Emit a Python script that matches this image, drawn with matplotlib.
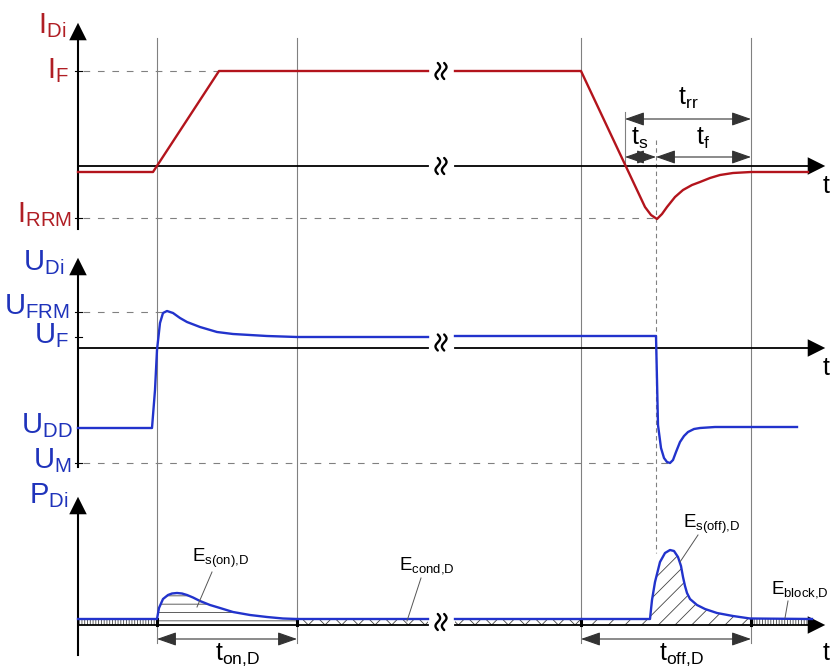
import numpy as np
import matplotlib
matplotlib.use("Agg")
import matplotlib.pyplot as plt

plt.rcParams['font.family'] = ['Liberation Sans', 'DejaVu Sans']
plt.rcParams['mathtext.fontset'] = 'custom'
plt.rcParams['mathtext.rm'] = 'Liberation Sans'
plt.rcParams['mathtext.it'] = 'Liberation Sans'
plt.rcParams['hatch.linewidth'] = 0.6

# ---------------- data (schematic units) ----------------
x_axis0 = 78
x_end = 828
t_marks = [157, 297, 581, 751]          # vertical reference lines
t_peak = 656                            # I_RRM instant (dashed line)
brk = [428, 455]                        # break gap
brk_x = 441

# current panel
I_axis_y = 166
I_F = 71
I_RRM = 218
I_t1 = [78, 153, 219, 428]
I_v1 = [172, 172, 71, 71]
I_t2 = [455, 581, 645, 651, 657, 662, 667, 675, 683, 692, 700, 710, 720, 733, 751, 808]
I_v2 = [71, 71, 207, 215, 219, 214, 207, 197, 190, 185, 182, 178, 175, 173, 172, 172]

# voltage panel
U_axis_y = 348
U_FRM = 312
U_F = 337
U_DD = 428
U_M = 463
U_t1 = [78, 152, 155, 157, 160, 163, 167, 173, 180, 187, 200, 217, 233, 250, 267, 297, 428]
U_v1 = [428, 428, 390, 350, 323, 313, 311, 313, 318, 322, 327, 332, 334, 335, 336, 337, 337]
U_t2 = [455, 656, 657, 658, 661, 664, 667, 670, 673, 676, 680, 684, 688, 694, 700, 715, 733, 797]
U_v2 = [336, 336, 380, 425, 448, 458, 462, 463, 460, 452, 442, 436, 432, 429, 428, 427, 427, 427]

# power panel
P_axis_y = 625
P_base = 619
P_t1 = [78, 157, 159, 163, 168, 172, 177, 182, 187, 193, 200, 210, 220, 233, 250, 267, 283, 297, 428]
P_v1 = [619, 619, 608, 599, 595, 593.5, 593, 593.5, 595, 597.5, 601, 605, 608, 612, 615, 617, 618.5, 619, 619]
P_t2 = [455, 650, 652, 655, 660, 665, 670, 674, 678, 681, 683, 685, 687, 690, 697, 705, 717, 733, 750, 812]
P_v2 = [619, 619, 600, 582, 562, 553, 550, 551, 557, 566, 577, 586, 593, 599, 605, 609, 613, 616, 618.5, 619]

red = '#b3141c'
red_t = '#b01e24'
blue = '#2233cc'
blue_t = '#1f33bb'
grey = '#808080'

fig = plt.figure(figsize=(8.3, 6.7), dpi=100)
ax = fig.add_axes([0, 0, 1, 1])
ax.set_xlim(0, 830)
ax.set_ylim(670, 0)
ax.axis('off')

# vertical reference lines
for x in t_marks:
    ax.plot([x, x], [38, 643], color=grey, lw=0.8, zorder=1)
ax.plot([t_peak, t_peak], [140, 553], color=grey, lw=0.8, ls=(0, (4, 3)), zorder=1)

dash = (0, (6, 7))
# dashed level lines
ax.plot([83, 219], [I_F, I_F], color=grey, lw=0.8, ls=dash)
ax.plot([83, t_peak], [I_RRM, I_RRM], color=grey, lw=0.8, ls=dash)
ax.plot([83, 163], [U_FRM, U_FRM], color=grey, lw=0.8, ls=dash)
ax.plot([83, 668], [U_M, U_M], color=grey, lw=0.8, ls=dash)
for y in [I_F, I_RRM, U_FRM, U_F, U_M]:
    ax.plot([x_axis0 - 3, x_axis0 + 4], [y, y], color='k', lw=0.8)


def vaxis(ytop, ybot):
    ax.plot([x_axis0, x_axis0], [ybot, ytop + 10], color='k', lw=1.5, zorder=3)
    ax.annotate('', xy=(x_axis0, ytop), xytext=(x_axis0, ytop + 12),
                arrowprops=dict(arrowstyle='-|>,head_length=0.9,head_width=0.45',
                                color='k', lw=0, mutation_scale=14), zorder=4)


def haxis(y):
    ax.plot([x_axis0, brk[0]], [y, y], color='k', lw=1.3, zorder=3)
    ax.plot([brk[1], x_end - 10], [y, y], color='k', lw=1.3, zorder=3)
    ax.annotate('', xy=(x_end, y), xytext=(x_end - 12, y),
                arrowprops=dict(arrowstyle='-|>,head_length=0.9,head_width=0.45',
                                color='k', lw=0, mutation_scale=14), zorder=4)


def squiggle(yc, h=8):
    s = np.linspace(-1, 1, 40)
    for dx in (-3.2, 3.2):
        xs = brk_x + dx - 2.3 * np.sin(np.pi * s)
        ys = yc + h * s
        ax.plot(xs, ys, color='k', lw=1.7, zorder=5, solid_capstyle='round')


vaxis(20, 229)
vaxis(255, 467)
vaxis(494, 655)
haxis(I_axis_y)
haxis(U_axis_y)
haxis(P_axis_y)

# hatched energy areas
hk = dict(facecolor='none', edgecolor='#444444', lw=0, zorder=2)
ax.fill_between([78, 157], [P_base, P_base], [P_axis_y, P_axis_y], hatch='||||||', **hk)
ax.fill_between([751, 812], [P_base, P_base], [P_axis_y, P_axis_y], hatch='||||||', **hk)
ax.fill_between([297, 428], [P_base, P_base], [P_axis_y, P_axis_y], hatch='xx', **hk)
ax.fill_between([455, 581], [P_base, P_base], [P_axis_y, P_axis_y], hatch='xx', **hk)
p1t = np.array(P_t1[1:-1]); p1v = np.array(P_v1[1:-1])
ax.fill_between(p1t, p1v, np.full_like(p1v, P_axis_y), hatch='--', **hk)
p2t = np.array([581] + P_t2[1:-1]); p2v = np.array([P_base] + P_v2[1:-1])
ax.fill_between(p2t, p2v, np.full_like(p2v, P_axis_y), hatch='//', **hk)
for x in t_marks:
    ax.plot([x, x], [P_base, P_axis_y], color='k', lw=2.2, zorder=4)

# waveforms
ax.plot(I_t1, I_v1, color=red, lw=1.7, zorder=4)
ax.plot(I_t2, I_v2, color=red, lw=1.7, zorder=4)
ax.plot(U_t1, U_v1, color=blue, lw=1.7, zorder=4)
ax.plot(U_t2, U_v2, color=blue, lw=1.7, zorder=4)
ax.plot(P_t1, P_v1, color=blue, lw=1.7, zorder=4)
ax.plot(P_t2, P_v2, color=blue, lw=1.7, zorder=4)

# break symbols
squiggle(I_F)
squiggle(I_axis_y)
squiggle((U_F + U_axis_y) / 2)
squiggle(P_axis_y - 3)


def dim_arrow(x0, x1, y, color='#333333'):
    ax.annotate('', xy=(x1, y), xytext=(x0, y),
                arrowprops=dict(arrowstyle='<|-|>,head_length=1.0,head_width=0.35',
                                color=color, lw=0.8, mutation_scale=12,
                                shrinkA=0, shrinkB=0), zorder=4)


dim_arrow(625, 751, 119)
dim_arrow(625, t_peak, 157)
dim_arrow(t_peak, 751, 157)
ax.plot([625, 625], [112, I_axis_y], color=grey, lw=0.8)
dim_arrow(157, 297, 639)
dim_arrow(581, 751, 639)

# y labels
lab = dict(fontsize=21, ha='right', va='baseline')
ax.text(66, 33, r'$\mathrm{I_{Di}}$', color=red_t, **lab)
ax.text(69, 78, r'$\mathrm{I_{F}}$', color=red_t, **lab)
ax.text(72, 222, r'$\mathrm{I_{RRM}}$', color=red_t, **lab)
ax.text(64, 270, r'$\mathrm{U_{Di}}$', color=blue_t, **lab)
ax.text(70, 314, r'$\mathrm{U_{FRM}}$', color=blue_t, **lab)
ax.text(69, 343, r'$\mathrm{U_{F}}$', color=blue_t, **lab)
ax.text(73, 433, r'$\mathrm{U_{DD}}$', color=blue_t, **lab)
ax.text(72, 468, r'$\mathrm{U_{M}}$', color=blue_t, **lab)
ax.text(69, 503, r'$\mathrm{P_{Di}}$', color=blue_t, **lab)

# time labels
ax.text(823, 193, 't', fontsize=18, ha='left', va='baseline')
ax.text(823, 375, 't', fontsize=18, ha='left', va='baseline')
ax.text(823, 660, 't', fontsize=18, ha='left', va='baseline')
tl = dict(fontsize=18, ha='center', va='baseline', color='k')
ax.text(688, 105, r'$\mathrm{t_{rr}}$', **tl)
ax.text(640, 145, r'$\mathrm{t_{s}}$', **tl)
ax.text(703, 145, r'$\mathrm{t_{f}}$', **tl)
ax.text(238, 660, r'$\mathrm{t_{on{,}D}}$', **tl)
ax.text(682, 660, r'$\mathrm{t_{off{,}D}}$', **tl)

# energy labels with leaders
el = dict(fontsize=13.5, ha='left', va='baseline', color='k')
ax.text(192, 562, r'$\mathrm{E_{s(on){,}D}}$', **el)
ax.plot([212, 197], [572, 607], color='#555555', lw=0.7, zorder=5)
ax.text(399, 569, r'$\mathrm{E_{cond{,}D}}$', **el)
ax.plot([421, 407], [578, 621], color='#555555', lw=0.7, zorder=5)
ax.text(683, 528, r'$\mathrm{E_{s(off){,}D}}$', **el)
ax.plot([698, 680], [535, 562], color='#555555', lw=0.7, zorder=5)
ax.text(771, 593, r'$\mathrm{E_{block{,}D}}$', **el)
ax.plot([788, 785], [601, 618], color='#555555', lw=0.7, zorder=5)

fig.savefig('out.png', dpi=100)
